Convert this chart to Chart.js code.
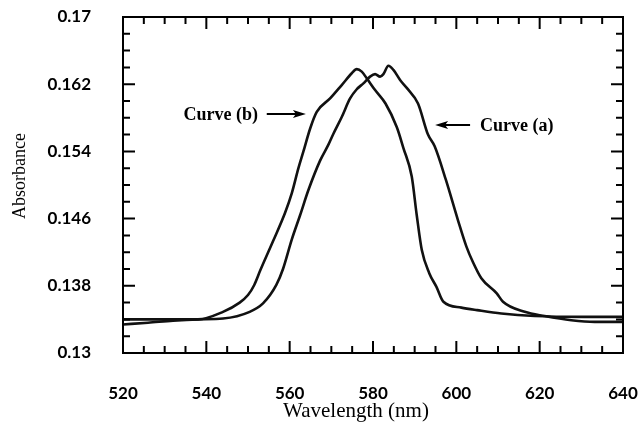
<!DOCTYPE html>
<html>
<head>
<meta charset="utf-8">
<script src="https://cdn.jsdelivr.net/npm/chart.js@4.4.1/dist/chart.umd.min.js"></script>
<style>
  html, body { margin: 0; padding: 0; background: #fff; }
  #wrap { width: 638px; height: 428px; position: relative; }
</style>
</head>
<body>
<div id="wrap"><canvas id="absChart" width="638" height="428"></canvas></div>
<script>
// curve (a) - red shifted spectrum
const waveA = [520, 526, 532, 538, 544, 550.4, 553.6, 556.8, 558.4, 560.5, 562.5, 564.5, 567.3, 569.3, 570.5, 572.5, 574.5, 576.1, 577.7, 579.3, 580.5, 581.7, 582.5, 583.7, 584.9, 586.5, 588.2, 590.8, 593.2, 594.8, 597.5, 600.4, 602.4, 604, 606, 609.7, 611.2, 616.4, 621.2, 627.6, 633.2, 640];
const absA  = [0.1334, 0.1336, 0.13385, 0.1340, 0.1341, 0.1349, 0.1359, 0.1381, 0.1400, 0.1435, 0.1464, 0.1494, 0.1529, 0.1548, 0.1561, 0.1581, 0.1603, 0.1614, 0.1621, 0.1629, 0.1632, 0.1629, 0.1632, 0.1642, 0.1637, 0.1625, 0.1615, 0.1597, 0.1560, 0.1546, 0.1506, 0.1458, 0.1427, 0.1408, 0.1389, 0.1371, 0.1361, 0.1349, 0.1344, 0.1339, 0.1337, 0.1337];

// curve (b)
const waveB = [520, 530, 538, 544, 548, 550, 551.5, 553, 556, 558.9, 560.5, 562.1, 563.3, 564.9, 566.5, 569.7, 572.5, 574.9, 576.1, 577.3, 578.5, 580.5, 583, 585.7, 587.3, 589.3, 590.5, 591.7, 593.5, 595.2, 596.9, 601.2, 605, 610.8, 618.8, 630.8, 640];
const absB  = [0.1340, 0.1340, 0.1340, 0.1349, 0.1360, 0.1369, 0.1381, 0.1399, 0.1433, 0.1467, 0.1490, 0.1520, 0.1540, 0.1567, 0.1587, 0.1603, 0.1619, 0.1633, 0.1638, 0.1635, 0.1627, 0.1613, 0.1597, 0.1569, 0.1544, 0.1510, 0.1464, 0.1423, 0.1395, 0.1379, 0.1361, 0.1354, 0.1351, 0.1347, 0.1344, 0.1343, 0.1343];

const xTicks = [520, 540, 560, 580, 600, 620, 640];
const yTicks = [0.13, 0.138, 0.146, 0.154, 0.162, 0.17];

const toPoints = (xs, ys) => xs.map((x, i) => ({ x: x, y: ys[i] }));

// box, inward ticks on all four sides, axis titles, curve labels
const framePlugin = {
    id: "frame",
    afterDraw(chart) {
        const ctx = chart.ctx;
        const a = chart.chartArea;
        const xs = chart.scales.x;
        const ys = chart.scales.y;
        ctx.save();
        ctx.strokeStyle = "#000";
        ctx.lineWidth = 2;
        ctx.strokeRect(a.left, a.top, a.right - a.left, a.bottom - a.top);

        ctx.beginPath();
        for (let v = 520; v <= 640; v += 5) {
            const px = xs.getPixelForValue(v);
            const len = (v % 20 === 0) ? 12 : 7;
            ctx.moveTo(px, a.bottom); ctx.lineTo(px, a.bottom - len);
            ctx.moveTo(px, a.top); ctx.lineTo(px, a.top + len);
        }
        for (let k = 0; k <= 20; k++) {
            const py = ys.getPixelForValue(0.13 + k * 0.002);
            const len = (k % 4 === 0) ? 12 : 7;
            ctx.moveTo(a.left, py); ctx.lineTo(a.left + len, py);
            ctx.moveTo(a.right, py); ctx.lineTo(a.right - len, py);
        }
        ctx.stroke();

        // axis titles
        ctx.fillStyle = "#000";
        ctx.font = "21px 'Liberation Serif'";
        ctx.textAlign = "center";
        ctx.textBaseline = "alphabetic";
        ctx.fillText("Wavelength (nm)", 356, 417);
        ctx.save();
        ctx.translate(25, 176);
        ctx.rotate(-Math.PI / 2);
        ctx.font = "18px 'Liberation Serif'";
        ctx.fillText("Absorbance", 0, 0);
        ctx.restore();

        // curve labels with arrows
        ctx.font = "bold 18px 'Liberation Serif'";
        ctx.textAlign = "right";
        const yb = ys.getPixelForValue(0.15845);
        ctx.fillText("Curve (b)", xs.getPixelForValue(552.4), yb + 6);
        drawArrow(ctx, xs.getPixelForValue(554.5), xs.getPixelForValue(563.9), yb);

        ctx.textAlign = "left";
        const ya = ys.getPixelForValue(0.15714);
        ctx.fillText("Curve (a)", xs.getPixelForValue(605.7), ya + 6);
        drawArrow(ctx, xs.getPixelForValue(603.3), xs.getPixelForValue(594.9), ya);
        ctx.restore();
    }
};

function drawArrow(ctx, x0, x1, y) {
    const dir = x1 > x0 ? 1 : -1;
    ctx.beginPath();
    ctx.lineWidth = 2;
    ctx.moveTo(x0, y);
    ctx.lineTo(x1 - dir * 8, y);
    ctx.stroke();
    ctx.beginPath();
    ctx.moveTo(x1, y);
    ctx.lineTo(x1 - dir * 13, y - 4);
    ctx.lineTo(x1 - dir * 10, y);
    ctx.lineTo(x1 - dir * 13, y + 4);
    ctx.closePath();
    ctx.fill();
}

const tickFont = { family: "Lato", weight: "bold", size: 17 };

new Chart(document.getElementById("absChart"), {
    type: "scatter",
    data: {
        datasets: [
            {
                label: "Curve (a)",
                data: toPoints(waveA, absA),
                showLine: true,
                borderColor: "#111",
                borderWidth: 2.6,
                pointRadius: 0,
                cubicInterpolationMode: "monotone",
            },
            {
                label: "Curve (b)",
                data: toPoints(waveB, absB),
                showLine: true,
                borderColor: "#111",
                borderWidth: 2.6,
                pointRadius: 0,
                cubicInterpolationMode: "monotone",
            },
        ],
    },
    options: {
        responsive: false,
        animation: false,
        layout: { padding: { left: 0, top: 17, right: 15, bottom: 0 } },
        plugins: { legend: { display: false }, tooltip: { enabled: false } },
        scales: {
            x: {
                type: "linear",
                min: 520,
                max: 640,
                afterFit: (s) => { s.height = 75; s.paddingLeft = 0; s.paddingRight = 0; },
                afterBuildTicks: (s) => { s.ticks = xTicks.map((v) => ({ value: v })); },
                grid: { display: false },
                border: { display: false },
                ticks: { color: "#000", font: tickFont, padding: 22, maxRotation: 0 },
            },
            y: {
                type: "linear",
                min: 0.13,
                max: 0.17,
                afterFit: (s) => { s.width = 123; s.paddingTop = 0; s.paddingBottom = 0; },
                afterBuildTicks: (s) => { s.ticks = yTicks.map((v) => ({ value: v })); },
                grid: { display: false },
                border: { display: false },
                ticks: {
                    color: "#000",
                    font: tickFont,
                    padding: 24,
                    callback: (v) => String(+v.toFixed(3)),
                },
            },
        },
    },
    plugins: [framePlugin],
});
</script>
</body>
</html>
